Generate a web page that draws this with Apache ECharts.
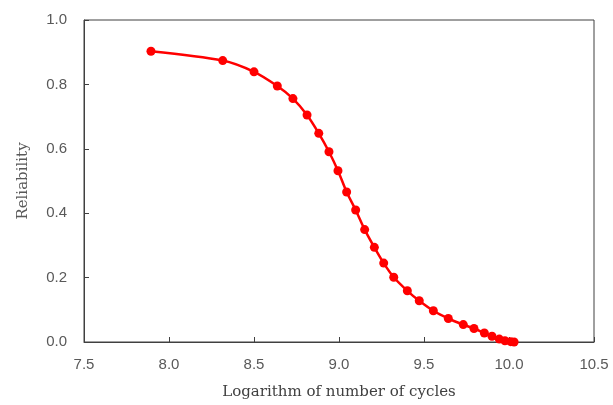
<!DOCTYPE html>
<html>
<head>
<meta charset="utf-8">
<script src="https://cdn.jsdelivr.net/npm/echarts@6/dist/echarts.min.js"></script>
<style>
  html, body { margin: 0; padding: 0; background: #fff; }
  #chart { width: 613px; height: 405px; }
</style>
</head>
<body>
<div id="chart"></div>
<script>
// log10 of number of cycles
const logCycles = [
  7.894, 8.316, 8.5, 8.637, 8.729, 8.812, 8.881, 8.941, 8.994, 9.045,
  9.098, 9.151, 9.208, 9.263, 9.322, 9.402, 9.472, 9.555, 9.643, 9.731,
  9.794, 9.855, 9.9, 9.943, 9.976, 10.01, 10.03
];
const reliability = [
  0.903, 0.874, 0.839, 0.795, 0.756, 0.705, 0.648, 0.591, 0.532, 0.466,
  0.41, 0.349, 0.294, 0.245, 0.201, 0.159, 0.128, 0.097, 0.073, 0.054,
  0.042, 0.028, 0.018, 0.009, 0.004, 0.001, 0.0
];

const chart = echarts.init(document.getElementById("chart"));

const tickLabel = {
  color: "#595959",
  fontFamily: "Liberation Sans",
  fontSize: 15,
};
const titleStyle = {
  color: "#404040",
  fontFamily: "DejaVu Serif",
  fontSize: 15,
};

chart.setOption({
  animation: false,
  grid: {
    left: 84,
    right: 19,
    top: 20,
    bottom: 62,
    show: true,
    borderColor: "#404040",
    borderWidth: 1,
  },
  xAxis: {
    type: "value",
    min: 7.5,
    max: 10.5,
    interval: 0.5,
    name: "Logarithm of number of cycles",
    nameLocation: "middle",
    nameGap: 43,
    nameTextStyle: titleStyle,
    axisLine: { show: true, lineStyle: { color: "#404040" } },
    axisTick: { show: true, inside: true, length: 5, lineStyle: { color: "#404040" } },
    axisLabel: {
      ...tickLabel,
      margin: 15,
      formatter(val) {
        return val.toFixed(1);
      },
    },
    splitLine: { show: false },
  },
  yAxis: {
    type: "value",
    min: 0,
    max: 1,
    interval: 0.2,
    name: "Reliability",
    nameLocation: "middle",
    nameGap: 53,
    nameTextStyle: { ...titleStyle, color: "#595959" },
    axisLine: { show: true, lineStyle: { color: "#404040" } },
    axisTick: { show: true, inside: true, length: 5, lineStyle: { color: "#404040" } },
    axisLabel: {
      ...tickLabel,
      margin: 17,
      formatter(val) {
        return val.toFixed(1);
      },
    },
    splitLine: { show: false },
  },
  series: [
    {
      type: "line",
      data: logCycles.map((x, i) => [x, reliability[i]]),
      smooth: 0.3,
      symbol: "circle",
      symbolSize: 9,
      color: "#ff0000",
      lineStyle: { color: "#ff0000", width: 2.5 },
      itemStyle: { color: "#ff0000" },
    },
  ],
});
</script>
</body>
</html>
